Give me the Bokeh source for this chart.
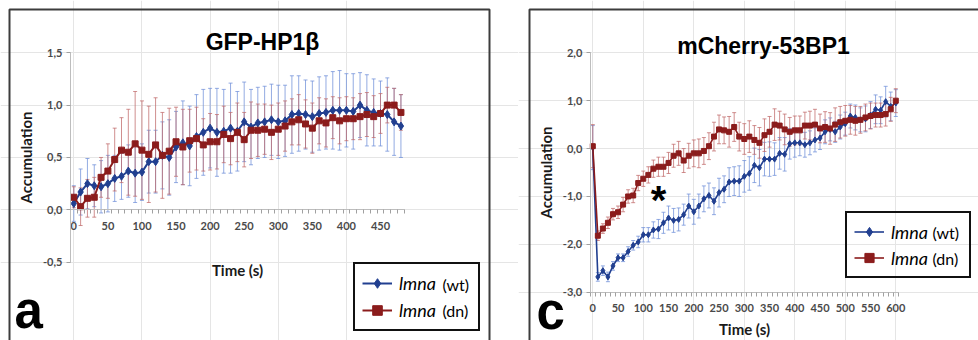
from bokeh.plotting import figure
from bokeh.models import (LinearAxis, FixedTicker, CustomJSTickFormatter, Range1d, Label,
                          BoxAnnotation, Legend, LegendItem, Whisker, TeeHead, ColumnDataSource)
from bokeh.layouts import row
from bokeh.embed import file_html
from bokeh.resources import INLINE

# ---------------- data : panel a (GFP-HP1beta) ----------------
time_a = [0, 10, 20, 30, 40, 50, 60, 70, 80, 90, 100, 110, 120, 130, 140, 150, 160, 170, 180, 190,
          200, 210, 220, 230, 240, 250, 260, 270, 280, 290, 300, 310, 320, 330, 340, 350, 360, 370,
          380, 390, 400, 410, 420, 430, 440, 450, 460, 470, 480]
wt_a = [0.06, 0.17, 0.25, 0.23, 0.22, 0.25, 0.30, 0.32, 0.37, 0.35, 0.36, 0.46, 0.46, 0.52, 0.50,
        0.60, 0.64, 0.61, 0.70, 0.74, 0.78, 0.74, 0.75, 0.78, 0.75, 0.84, 0.79, 0.83, 0.84, 0.86,
        0.84, 0.85, 0.91, 0.92, 0.91, 0.89, 0.92, 0.93, 0.95, 0.95, 0.95, 0.94, 1.00, 0.95, 0.93,
        0.92, 0.91, 0.84, 0.80]
wt_a_err = [0.17, 0.22, 0.24, 0.20, 0.25, 0.27, 0.22, 0.22, 0.25, 0.28, 0.27, 0.30, 0.30, 0.32, 0.36,
            0.34, 0.40, 0.38, 0.40, 0.41, 0.38, 0.42, 0.40, 0.43, 0.38, 0.38, 0.36, 0.34, 0.34, 0.34,
            0.35, 0.34, 0.37, 0.36, 0.33, 0.34, 0.35, 0.35, 0.37, 0.38, 0.35, 0.36, 0.31, 0.34, 0.32,
            0.31, 0.35, 0.32, 0.30]
dn_a = [0.12, 0.03, 0.11, 0.12, 0.31, 0.37, 0.48, 0.57, 0.55, 0.63, 0.57, 0.53, 0.62, 0.52, 0.56,
        0.65, 0.60, 0.66, 0.68, 0.62, 0.65, 0.65, 0.72, 0.68, 0.74, 0.67, 0.76, 0.76, 0.77, 0.74,
        0.77, 0.80, 0.84, 0.86, 0.82, 0.78, 0.85, 0.83, 0.88, 0.85, 0.87, 0.87, 0.89, 0.91, 0.89,
        0.92, 1.00, 1.00, 0.93]
dn_a_err = [0.10, 0.18, 0.18, 0.19, 0.19, 0.26, 0.30, 0.31, 0.41, 0.50, 0.47, 0.46, 0.45, 0.41, 0.41,
            0.33, 0.36, 0.30, 0.30, 0.25, 0.27, 0.26, 0.27, 0.25, 0.28, 0.26, 0.27, 0.25, 0.24, 0.26,
            0.25, 0.24, 0.22, 0.24, 0.23, 0.24, 0.22, 0.23, 0.20, 0.22, 0.21, 0.20, 0.22, 0.21, 0.20,
            0.19, 0.17, 0.16, 0.17]
xlabels_a = [0, 50, 100, 150, 200, 250, 300, 350, 400, 450]
yticks_a = [-0.5, 0.0, 0.5, 1.0, 1.5]

# ---------------- data : panel c (mCherry-53BP1) ----------------
time_c = [0, 10, 20, 30, 40, 50, 60, 70, 80, 90, 100, 110, 120, 130, 140, 150, 160, 170, 180, 190,
          200, 210, 220, 230, 240, 250, 260, 270, 280, 290, 300, 310, 320, 330, 340, 350, 360, 370,
          380, 390, 400, 410, 420, 430, 440, 450, 460, 470, 480, 490, 500, 510, 520, 530, 540, 550,
          560, 570, 580, 590, 600]
wt_c = [0.02, -2.68, -2.55, -2.68, -2.45, -2.28, -2.28, -2.15, -2.02, -1.95, -1.80, -1.80, -1.70,
        -1.68, -1.55, -1.45, -1.50, -1.48, -1.38, -1.20, -1.32, -1.20, -1.05, -0.98, -1.10, -0.92,
        -0.85, -0.70, -0.68, -0.68, -0.58, -0.52, -0.35, -0.40, -0.22, -0.22, -0.22, -0.10, -0.12,
        0.10, 0.12, 0.12, 0.08, 0.12, 0.18, 0.22, 0.35, 0.40, 0.35, 0.45, 0.52, 0.68, 0.65, 0.60,
        0.62, 0.70, 0.82, 0.80, 0.98, 0.88, 0.95]
wt_c_err = [0.46, 0.09, 0.10, 0.10, 0.09, 0.08, 0.08, 0.10, 0.10, 0.12, 0.15, 0.15, 0.17, 0.20, 0.22,
            0.25, 0.25, 0.24, 0.22, 0.25, 0.26, 0.25, 0.27, 0.26, 0.28, 0.30, 0.28, 0.30, 0.30, 0.32,
            0.33, 0.35, 0.36, 0.38, 0.35, 0.36, 0.34, 0.33, 0.35, 0.32, 0.30, 0.27, 0.26, 0.25, 0.25,
            0.24, 0.25, 0.24, 0.22, 0.25, 0.24, 0.25, 0.26, 0.25, 0.27, 0.28, 0.30, 0.28, 0.32, 0.30,
            0.28]
dn_c = [0.05, -1.82, -1.67, -1.55, -1.37, -1.33, -1.17, -1.00, -0.98, -0.72, -0.63, -0.55, -0.42,
        -0.38, -0.38, -0.30, -0.15, -0.10, -0.25, -0.15, -0.10, -0.10, -0.05, 0.05, 0.25, 0.40,
        0.38, 0.35, 0.45, 0.25, 0.20, 0.25, 0.18, 0.12, 0.28, 0.35, 0.50, 0.48, 0.40, 0.35, 0.38,
        0.38, 0.48, 0.48, 0.50, 0.42, 0.45, 0.42, 0.50, 0.55, 0.58, 0.60, 0.58, 0.60, 0.65, 0.68,
        0.70, 0.70, 0.72, 0.82, 1.00]
dn_c_err = [0.45, 0.10, 0.10, 0.12, 0.12, 0.13, 0.15, 0.14, 0.15, 0.16, 0.16, 0.17, 0.18, 0.20, 0.20,
            0.22, 0.24, 0.25, 0.25, 0.26, 0.28, 0.30, 0.28, 0.28, 0.30, 0.30, 0.28, 0.32, 0.30, 0.30,
            0.32, 0.33, 0.30, 0.32, 0.34, 0.32, 0.33, 0.30, 0.32, 0.30, 0.30, 0.30, 0.28, 0.30, 0.32,
            0.30, 0.32, 0.33, 0.35, 0.33, 0.32, 0.30, 0.30, 0.28, 0.28, 0.27, 0.25, 0.25, 0.25, 0.25,
            0.25]
xlabels_c = [0, 50, 100, 150, 200, 250, 300, 350, 400, 450, 500, 550, 600]
yticks_c = [-3.0, -2.0, -1.0, 0.0, 1.0, 2.0]

title_a = "GFP-HP1\u03b2"
title_c = "mCherry-53BP1"
xlab = "Time (s)"
ylab = "Accumulation"
series_name = "lmna"
wt_tag = "(wt)"
dn_tag = "(dn)"

# ---------------- styling ----------------
H = 340
NAVY = "#213f90"
DRED = "#8b1c1c"
NAVY_ERR = "#6f8fd8"
DRED_ERR = "#c06a6a"
LABEL_FONT = "Lato"
TITLE_FONT = "Liberation Sans"
comma_fmt = CustomJSTickFormatter(code="return tick.toFixed(1).replace('.', ',');")


def make_fig(w, xr, yr):
    p = figure(width=w, height=H, x_range=Range1d(*xr), y_range=Range1d(*yr),
               x_axis_location=None, y_axis_location=None, toolbar_location=None,
               output_backend="svg", title=None)
    p.min_border_left = p.min_border_right = p.min_border_top = p.min_border_bottom = 0
    p.outline_line_color = None
    p.background_fill_color = "white"
    p.border_fill_color = "white"
    return p


def style_axis(ax):
    ax.axis_line_color = "#bdbdbd"
    ax.axis_line_width = 1
    ax.major_tick_line_color = "#a0a0a0"
    ax.minor_tick_line_color = "#a0a0a0"
    ax.major_label_text_font = LABEL_FONT
    ax.major_label_text_font_size = "11px"
    ax.major_label_text_font_style = "bold"
    ax.major_label_text_color = "#4a4a4a"


def add_axes(p, times, xlabels, yticks, xfix, xstandoff):
    half = (times[1] - times[0]) / 2
    bounds_x = (times[0] - half, times[-1] + half)
    minor = [t - half for t in times] + [times[-1] + half]
    yax = LinearAxis(fixed_location=bounds_x[0], bounds=(yticks[0], yticks[-1]),
                     ticker=FixedTicker(ticks=yticks), formatter=comma_fmt,
                     major_tick_in=0, major_tick_out=4, minor_tick_in=0, minor_tick_out=0,
                     major_label_standoff=4, axis_label=ylab, axis_label_standoff=5,
                     axis_label_text_font=LABEL_FONT, axis_label_text_font_style="bold",
                     axis_label_text_font_size="15px", axis_label_text_color="#1a1a1a")
    style_axis(yax)
    p.add_layout(yax, "left")
    xax = LinearAxis(fixed_location=xfix, bounds=bounds_x,
                     ticker=FixedTicker(ticks=xlabels, minor_ticks=minor),
                     major_tick_in=0, major_tick_out=0, minor_tick_in=0, minor_tick_out=4,
                     major_label_standoff=xstandoff)
    style_axis(xax)
    p.add_layout(xax, "below")


def add_series(p, times, vals, errs, color, ecolor, marker, msize, lw):
    src = ColumnDataSource(dict(t=times, v=vals,
                                lo=[v - e for v, e in zip(vals, errs)],
                                hi=[v + e for v, e in zip(vals, errs)]))
    wh = Whisker(source=src, base="t", lower="lo", upper="hi", line_color=ecolor,
                 line_alpha=0.75, line_width=1, level="underlay",
                 upper_head=TeeHead(size=4, line_color=ecolor, line_alpha=0.75, line_width=1),
                 lower_head=TeeHead(size=4, line_color=ecolor, line_alpha=0.75, line_width=1))
    p.add_layout(wh)
    lr = p.line("t", "v", source=src, line_color=color, line_width=lw)
    sr = p.scatter("t", "v", source=src, marker=marker, size=msize, color=color)
    return [lr, sr]


def add_label(p, off, px, py, text, size, style="normal", font=LABEL_FONT, align="center",
              color="black"):
    # (px, py): page position of the visual middle of the text
    p.add_layout(Label(x=px - off, y=H - py, x_units="screen", y_units="screen",
                       text=text, text_font=font, text_font_size=f"{size}px",
                       text_font_style=style, text_align=align, text_baseline="middle",
                       text_color=color))


def add_border(p, left, right, top):
    p.add_layout(BoxAnnotation(left=left, right=right, top=top, bottom=-30,
                               left_units="screen", right_units="screen",
                               top_units="screen", bottom_units="screen",
                               fill_color=None, fill_alpha=0, line_color="#3c3c3c",
                               line_width=2, line_alpha=1, level="overlay"))


def add_legend(p, items, loc, pad, gh, lw):
    leg = Legend(items=items, location=loc, orientation="vertical", margin=0,
                 border_line_color="#111111", border_line_width=2, border_line_alpha=1,
                 background_fill_color="white", background_fill_alpha=0,
                 padding=pad, spacing=3, glyph_width=30, glyph_height=gh, label_height=gh,
                 label_width=lw, label_standoff=7, label_text_font=LABEL_FONT,
                 label_text_font_style="italic", label_text_font_size="18px",
                 label_text_color="black")
    p.add_layout(leg)


# ---------------- panel a ----------------
OFF_A = 0
pa = make_fig(518, (-107.56, 652.5), (-1.248, 1.999))
add_axes(pa, time_a, xlabels_a, yticks_a, 0.0, 8)
ra_wt = add_series(pa, time_a, wt_a, wt_a_err, NAVY, NAVY_ERR, "diamond", 8, 2)
ra_dn = add_series(pa, time_a, dn_a, dn_a_err, DRED, DRED_ERR, "square", 6, 2)
add_border(pa, 9, 489, H - 9)
add_legend(pa, [LegendItem(label=series_name, renderers=ra_wt),
                LegendItem(label=series_name, renderers=ra_dn)], (353, 9), 7, 24, 72)
add_label(pa, OFF_A, 262, 41.5, title_a, 23, "bold", TITLE_FONT)
add_label(pa, OFF_A, 237, 269, xlab, 15, "bold", color="#1a1a1a")
add_label(pa, OFF_A, 14, 310, "a", 51, "bold", TITLE_FONT, align="left")
add_label(pa, OFF_A, 442, 283.5, wt_tag, 16, align="left")
add_label(pa, OFF_A, 442, 309.5, dn_tag, 16, align="left")

# ---------------- panel c ----------------
OFF_C = 518
pc = make_fig(460, (-147.1, 763.8), (-4.008, 3.092))
add_axes(pc, time_c, xlabels_c, yticks_c, -3.0, 8)
rc_wt = add_series(pc, time_c, wt_c, wt_c_err, NAVY, NAVY_ERR, "diamond", 6, 1.6)
rc_dn = add_series(pc, time_c, dn_c, dn_c_err, DRED, DRED_ERR, "square", 5, 1.6)
add_border(pc, 11, 475, H - 9)
add_legend(pc, [LegendItem(label=series_name, renderers=rc_wt),
                LegendItem(label=series_name, renderers=rc_dn)], (327, 62), 7, 23, 71)
add_label(pc, OFF_C, 763, 45, title_c, 23, "bold", TITLE_FONT)
add_label(pc, OFF_C, 744, 328, xlab, 15, "bold", color="#1a1a1a")
add_label(pc, OFF_C, 536, 311, "c", 51, "bold", TITLE_FONT, align="left")
add_label(pc, OFF_C, 658, 199, "*", 40, "bold", TITLE_FONT)
add_label(pc, OFF_C, 932, 232, wt_tag, 16, align="left")
add_label(pc, OFF_C, 932, 258, dn_tag, 16, align="left")

layout = row(pa, pc, spacing=0)
open("out.html", "w").write(file_html(layout, INLINE))
